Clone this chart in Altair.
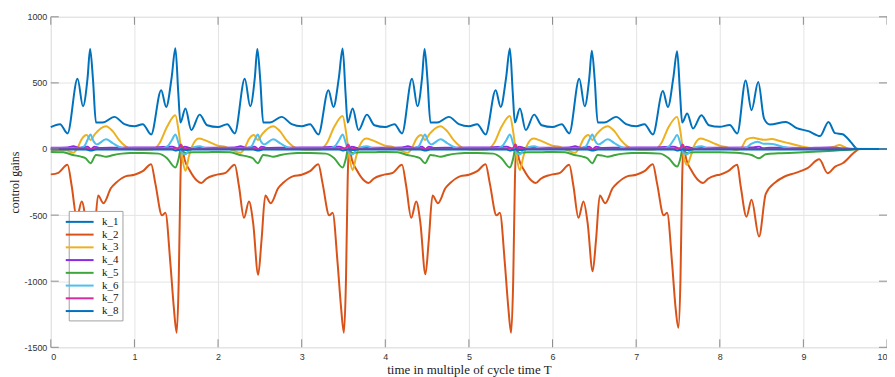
import altair as alt
import pandas as pd

SERIES = ["k_1", "k_2", "k_3", "k_4", "k_5", "k_6", "k_7", "k_8"]
COLORS = ["#0072BD", "#D95319", "#EDB120", "#8A2BE2", "#3DA63D", "#4DBEEE", "#D62C9F", "#0072BD"]

X_TICKS = [0, 1, 2, 3, 4, 5, 6, 7, 8, 9, 10]
Y_TICKS = [-1500, -1000, -500, 0, 500, 1000]

# starts of the two kinds of half-cycle (T units)
A_STARTS = [0, 2, 4, 6]
B_STARTS = [1, 3, 5, 7]

# (offset inside half-cycle, value); a list gives the value per cycle
K1_A = [(0.00, 166), (0.11, 188), (0.20, 118), (0.32, 531), (0.385, 323), (0.44, 540),
        (0.47, [757, 757, 757, 744]), (0.505, 520), (0.54, 200), (0.62, 200), (0.76, 243), (0.88, 188)]
K1_B = [(0.00, 172), (0.10, 188), (0.20, 110), (0.32, [444, 444, 444, 438]), (0.38, 318), (0.445, 540),
        (0.49, [762, 760, 760, 739]), (0.525, 420), (0.55, 200), (0.61, [306, 306, 306, 268]),
        (0.68, [143, 143, 143, 155]), (0.78, [260, 260, 260, 255]), (0.87, 180)]
K1_TAIL = [(8.00, 168), (8.12, 182), (8.21, 118), (8.31, 519), (8.38, 293), (8.46, 506), (8.53, 230),
           (8.60, 185), (8.79, 205), (8.92, 158), (9.06, 135), (9.20, 98), (9.30, 205), (9.38, 120),
           (9.47, 112), (9.57, 50), (9.65, 0), (10.00, 0)]

K2_A = [(0.00, -192), (0.09, -180), (0.20, -120), (0.25, -280), (0.31, -520), (0.37, -398), (0.42, -560),
        (0.48, [-950, -952, -948, -925]), (0.52, -690), (0.565, -352), (0.63, -410), (0.72, -295),
        (0.78, -255), (0.90, -205)]
K2_B = [(0.00, -195), (0.10, -168), (0.20, -115), (0.25, -260), (0.33, -502), (0.37, -483), (0.43, -865),
        (0.47, -1190), (0.505, [-1390, -1390, -1390, -1353]), (0.53, -990), (0.55, -240), (0.565, 30),
        (0.60, -80), (0.66, -160), (0.75, -240), (0.80, -258), (0.86, -225), (0.95, -200)]
K2_TAIL = [(8.00, -195), (8.10, -168), (8.21, -120), (8.25, -280), (8.32, -512), (8.38, -383), (8.47, -662),
           (8.55, -340), (8.67, -250), (8.77, -210), (8.90, -182), (9.05, -145), (9.19, -78), (9.29, -183),
           (9.38, -133), (9.47, -108), (9.62, -20), (9.67, 0), (10.00, 0)]

K3_A = [(0.00, [-10, 25, 25, 25]), (0.09, [-10, 15, 15, 15]), (0.18, -10), (0.27, -28), (0.32, 10),
        (0.37, 75), (0.43, 105), (0.475, 68), (0.53, 115), (0.66, 173), (0.74, 135), (0.82, 65),
        (0.90, 18), (0.96, 2)]
K3_B = [(0.05, -5), (0.22, -3), (0.30, 43), (0.39, 168), (0.49, [255, 250, 250, 243]), (0.53, 130),
        (0.57, -60), (0.61, [-165, -160, -160, -120]), (0.65, -60), (0.69, 20), (0.77, 80), (0.85, 65),
        (0.93, 43)]
K3_TAIL = [(8.00, 25), (8.09, 12), (8.20, -8), (8.26, 10), (8.32, 73), (8.40, 85), (8.47, 75), (8.53, 70),
           (8.62, 75), (8.72, 60), (8.83, 43), (8.99, 18), (9.15, 5), (9.30, 8), (9.38, 20), (9.43, 30),
           (9.49, 15), (9.55, 0), (10.00, 0)]

K4_A = [(0.00, 10), (0.20, 12), (0.27, 20), (0.33, 10), (0.44, 18), (0.48, -2), (0.52, 18), (0.58, 8), (0.80, 10)]
K4_B = [(0.25, 12), (0.45, 18), (0.50, 5), (0.55, -12), (0.60, 18), (0.66, 8), (0.85, 10)]
K4_TAIL = [(8.00, 10), (8.40, 12), (8.47, 18), (8.52, 5), (8.60, 10), (9.00, 8), (9.30, 12), (9.45, 6),
           (9.65, 0), (10.00, 0)]

K5_A = [(0.00, -22), (0.15, -25), (0.26, -45), (0.36, -58), (0.42, -72), (0.475, -108), (0.54, -45),
        (0.60, -50), (0.66, -58), (0.75, -45), (0.85, -35), (0.95, -30)]
K5_B = [(0.10, -30), (0.29, -35), (0.39, -70), (0.49, [-140, -140, -140, -133]), (0.53, -70), (0.56, 15),
        (0.60, -30), (0.70, -25), (0.85, -25)]
K5_TAIL = [(8.00, -24), (8.20, -28), (8.29, -35), (8.38, -45), (8.47, -70), (8.55, -40), (8.70, -33),
           (9.00, -25), (9.30, -15), (9.60, -3), (9.70, 0), (10.00, 0)]

K6_A = [(0.00, 3), (0.34, 5), (0.40, 20), (0.44, 70), (0.475, 110), (0.51, 60), (0.55, 35), (0.66, 73),
        (0.74, 45), (0.82, 15), (0.90, 3)]
K6_B = [(0.30, 3), (0.39, 18), (0.45, 70), (0.49, [110, 110, 110, 105]), (0.53, 40), (0.57, -30),
        (0.61, -40), (0.65, -10), (0.72, 15), (0.78, 20), (0.86, 5), (0.95, 2)]
K6_TAIL = [(8.00, 2), (8.30, 5), (8.38, 40), (8.45, 55), (8.52, 40), (8.63, 38), (8.75, 18), (8.90, 3),
           (10.00, 0)]

K7_A = [(0.00, 0), (0.44, 6), (0.48, -6), (0.52, 6), (0.60, 0)]
K7_B = [(0.00, 0), (0.48, 3), (0.53, 8), (0.555, 35), (0.57, -12), (0.60, 5), (0.65, 0)]
K7_TAIL = [(8.00, 0), (10.00, 0)]

K8_A = [(0.00, -4), (0.42, -4), (0.48, -12), (0.54, -4)]
K8_B = [(0.00, -4), (0.45, -4), (0.50, -12), (0.56, -2), (0.62, -8), (0.68, -4)]
K8_TAIL = [(8.00, -4), (9.50, -3), (9.65, 0), (10.00, 0)]

PARTS = {
    "k_1": (K1_A, K1_B, K1_TAIL), "k_2": (K2_A, K2_B, K2_TAIL), "k_3": (K3_A, K3_B, K3_TAIL),
    "k_4": (K4_A, K4_B, K4_TAIL), "k_5": (K5_A, K5_B, K5_TAIL), "k_6": (K6_A, K6_B, K6_TAIL),
    "k_7": (K7_A, K7_B, K7_TAIL), "k_8": (K8_A, K8_B, K8_TAIL),
}


def pick(v, i):
    return v[i] if isinstance(v, list) else v


rows = []
for name in SERIES:
    a, b, tail = PARTS[name]
    pts = []
    for i, s in enumerate(A_STARTS):
        pts += [(s + t, pick(v, i)) for t, v in a]
    for i, s in enumerate(B_STARTS):
        pts += [(s + t, pick(v, i)) for t, v in b]
    pts += list(tail)
    pts.sort()
    rows += [{"series": name, "t": t, "v": v} for t, v in pts]
df = pd.DataFrame(rows)

W, H = 840, 332
TICK = 8
FRAME = "#8c8c8c"
xs = alt.Scale(domain=[0, 10], nice=False, zero=False)
ys = alt.Scale(domain=[-1500, 1000], nice=False, zero=False)

x_axis = alt.Axis(
    values=X_TICKS, format="d", title="time in multiple of cycle time T", grid=True, gridColor="#e4e4e4",
    domain=False, ticks=False, tickSize=0, labelPadding=5, labelFont="Liberation Sans",
    labelFontSize=9, labelColor="#333333", titleFont="Liberation Serif", titleFontSize=13,
    titleFontWeight="normal", titleColor="#222222", titlePadding=2)
y_axis = alt.Axis(
    values=Y_TICKS, title="control gains", grid=True, gridColor="#e4e4e4", domain=False,
    ticks=False, tickSize=0, labelPadding=4, labelExpr="'' + datum.value",
    labelFont="Liberation Sans", labelFontSize=9, labelColor="#333333",
    titleFont="Liberation Serif", titleFontSize=12, titleFontWeight="normal",
    titleColor="#222222", titlePadding=2)

lines = alt.Chart(df).mark_line(strokeWidth=2, interpolate="monotone").encode(
    x=alt.X("t:Q", scale=xs, axis=x_axis),
    y=alt.Y("v:Q", scale=ys, axis=y_axis),
    color=alt.Color("series:N", scale=alt.Scale(domain=SERIES, range=COLORS), legend=alt.Legend(
        title=None, orient="none", legendX=18, legendY=195, symbolType="M-2.5,0H2.5", symbolSize=125,
        symbolStrokeWidth=2, labelFont="Liberation Serif", labelFontSize=11, labelColor="#111111",
        fillColor="white", strokeColor="#a0a0a0", padding=4, rowPadding=0.8, labelOffset=15.5)),
)

xt = pd.DataFrame({"xt": X_TICKS})
yt = pd.DataFrame({"yt": Y_TICKS})
rule_kw = dict(color=FRAME, strokeWidth=1)
bx = alt.Chart(xt).mark_rule(**rule_kw).encode(
    x=alt.X("xt:Q", scale=xs), y=alt.value(H), y2=alt.value(H - TICK))
tx = alt.Chart(xt).mark_rule(**rule_kw).encode(
    x=alt.X("xt:Q", scale=xs), y=alt.value(0), y2=alt.value(TICK))
ly = alt.Chart(yt).mark_rule(**rule_kw).encode(
    y=alt.Y("yt:Q", scale=ys), x=alt.value(0), x2=alt.value(TICK))
ry = alt.Chart(yt).mark_rule(**rule_kw).encode(
    y=alt.Y("yt:Q", scale=ys), x=alt.value(W), x2=alt.value(W - TICK))

chart = alt.layer(lines, bx, tx, ly, ry).properties(
    width=W, height=H,
    autosize=alt.AutoSizeParams(type="none"),
    padding={"left": 43, "top": 8, "right": 0, "bottom": 30},
).configure_view(stroke=FRAME, strokeWidth=1).configure(background="white")

chart.save("out.html", embed_options={"renderer": "svg", "actions": False})
